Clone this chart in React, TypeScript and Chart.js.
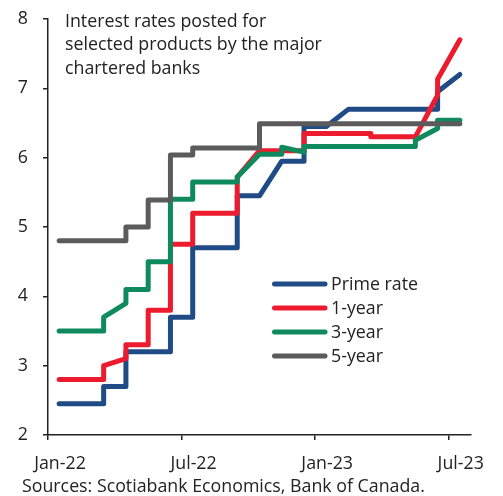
import { useEffect, useRef } from "react";
import { Chart, registerables } from "chart.js";

Chart.register(...registerables);

// x values are months since Jan 2022 (0 = Jan-22)
const tickMonths = [0, 6, 12, 18];
const tickLabels = ["Jan-22", "Jul-22", "Jan-23", "Jul-23"];

const titleLines = [
  "Interest rates posted for",
  "selected products by the major",
  "chartered banks",
];
const sourceText = "Sources: Scotiabank Economics, Bank of Canada.";

const seriesNames = ["Prime rate", "1-year", "3-year", "5-year"];
const seriesColors = ["#1F4B86", "#EC1C2E", "#0E8A5E", "#5B5B5B"];

const primeRate: [number, number][] = [
  [0.5, 2.45], [2.5, 2.45], [2.5, 2.7], [3.5, 2.7], [3.5, 3.2], [5.5, 3.2],
  [5.5, 3.7], [6.5, 3.7], [6.5, 4.7], [8.5, 4.7], [8.5, 5.45], [9.5, 5.45],
  [10.5, 5.95], [11.5, 5.95], [11.5, 6.45], [12.5, 6.45], [13.5, 6.7],
  [17.5, 6.7], [17.5, 6.95], [18.5, 7.2],
];
const oneYear: [number, number][] = [
  [0.5, 2.8], [2.5, 2.8], [2.5, 3.0], [3.5, 3.1], [3.5, 3.3], [4.5, 3.3],
  [4.5, 3.8], [5.5, 3.8], [5.5, 4.75], [6.5, 4.75], [6.5, 5.2], [8.5, 5.2],
  [8.5, 5.72], [9.5, 6.1], [11.5, 6.1], [11.5, 6.35], [14.5, 6.35],
  [14.5, 6.3], [16.5, 6.3], [17.5, 6.9], [17.5, 7.13], [18.5, 7.7],
];
const threeYear: [number, number][] = [
  [0.5, 3.5], [2.5, 3.5], [2.5, 3.7], [3.5, 3.9], [3.5, 4.1], [4.5, 4.1],
  [4.5, 4.5], [5.5, 4.5], [5.5, 5.4], [6.5, 5.4], [6.5, 5.65], [8.5, 5.65],
  [8.5, 5.72], [9.5, 6.05], [10.5, 6.05], [10.5, 6.15], [11.5, 6.08],
  [11.5, 6.16], [16.5, 6.16], [16.5, 6.25], [17.5, 6.42], [17.5, 6.54],
  [18.5, 6.54],
];
const fiveYear: [number, number][] = [
  [0.5, 4.8], [3.5, 4.8], [3.5, 5.0], [4.5, 5.0], [4.5, 5.39], [5.5, 5.39],
  [5.5, 6.04], [6.5, 6.04], [6.5, 6.14], [9.5, 6.14], [9.5, 6.49],
  [18.5, 6.49],
];

const allSeries = [primeRate, oneYear, threeYear, fiveYear];
// drawing order: 5-year on top, then 3-year, 1-year, prime at the bottom
const drawOrder = [3, 2, 1, 0];

const FONT = '"Open Sans", sans-serif';
const FONT_SIZE = 17.8;
const TEXT = "#222222";

const overlayPlugin = {
  id: "overlay",
  afterDraw(chart: any) {
    const ctx = chart.ctx as CanvasRenderingContext2D;
    ctx.save();
    ctx.fillStyle = TEXT;
    ctx.font = `${FONT_SIZE}px ${FONT}`;
    ctx.textAlign = "left";
    ctx.textBaseline = "alphabetic";
    titleLines.forEach((t, i) => ctx.fillText(t, 65, 27 + i * 23.3));
    ctx.fillText(sourceText, 22, 492);

    // legend
    seriesNames.forEach((name, i) => {
      const y = 284 + i * 24;
      ctx.strokeStyle = seriesColors[i];
      ctx.lineWidth = 5;
      ctx.lineCap = "round";
      ctx.beginPath();
      ctx.moveTo(274.5, y);
      ctx.lineTo(325, y);
      ctx.stroke();
      ctx.textBaseline = "middle";
      ctx.fillStyle = TEXT;
      ctx.fillText(name, 331, y + 1);
    });
    ctx.restore();
  },
};

export default function App() {
  const ref = useRef<HTMLCanvasElement | null>(null);

  useEffect(() => {
    if (!ref.current) return;
    const chart = new Chart(ref.current, {
      type: "line",
      data: {
        datasets: allSeries.map((s, i) => ({
          label: seriesNames[i],
          data: s.map(([x, y]) => ({ x, y })),
          borderColor: seriesColors[i],
          backgroundColor: seriesColors[i],
          borderWidth: 5,
          borderCapStyle: "round" as const,
          borderJoinStyle: "round" as const,
          pointRadius: 0,
          tension: 0,
          fill: false,
          order: drawOrder[i],
        })),
      },
      options: {
        animation: false,
        responsive: false,
        layout: { padding: { top: 19, right: 32, left: 0, bottom: 0 } },
        plugins: {
          legend: { display: false },
          tooltip: { enabled: false },
          title: { display: false },
        },
        scales: {
          x: {
            type: "linear",
            min: 0,
            max: 19,
            afterBuildTicks: (scale: any) => {
              scale.ticks = tickMonths.map((v) => ({ value: v }));
            },
            afterFit: (scale: any) => {
              scale.height = 61;
              scale.paddingLeft = 0;
              scale.paddingRight = 0;
            },
            grid: {
              display: true,
              drawOnChartArea: false,
              drawTicks: true,
              tickLength: 5,
              color: "#222222",
              lineWidth: 1.5,
            },
            border: { display: true, color: "#222222", width: 1.5 },
            ticks: {
              autoSkip: false,
              maxRotation: 0,
              padding: 13,
              labelOffset: 12,
              color: TEXT,
              font: { family: FONT, size: FONT_SIZE },
              callback: (v: any) => {
                const k = tickMonths.indexOf(Number(v));
                return k >= 0 ? tickLabels[k] : "";
              },
            },
          },
          y: {
            min: 2,
            max: 8,
            afterFit: (scale: any) => {
              scale.width = 48;
              scale.paddingTop = 0;
              scale.paddingBottom = 0;
            },
            grid: {
              display: true,
              drawOnChartArea: false,
              drawTicks: true,
              tickLength: 5,
              color: "#222222",
              lineWidth: 1.5,
            },
            border: { display: true, color: "#222222", width: 1.5 },
            ticks: {
              stepSize: 1,
              padding: 15,
              color: TEXT,
              font: { family: FONT, size: FONT_SIZE },
            },
          },
        },
      },
      plugins: [overlayPlugin],
    });
    return () => chart.destroy();
  }, []);

  return (
    <div style={{ position: "absolute", left: 0, top: 0, width: 503, height: 496, background: "#fff" }}>
      <canvas ref={ref} width={503} height={496} />
    </div>
  );
}
